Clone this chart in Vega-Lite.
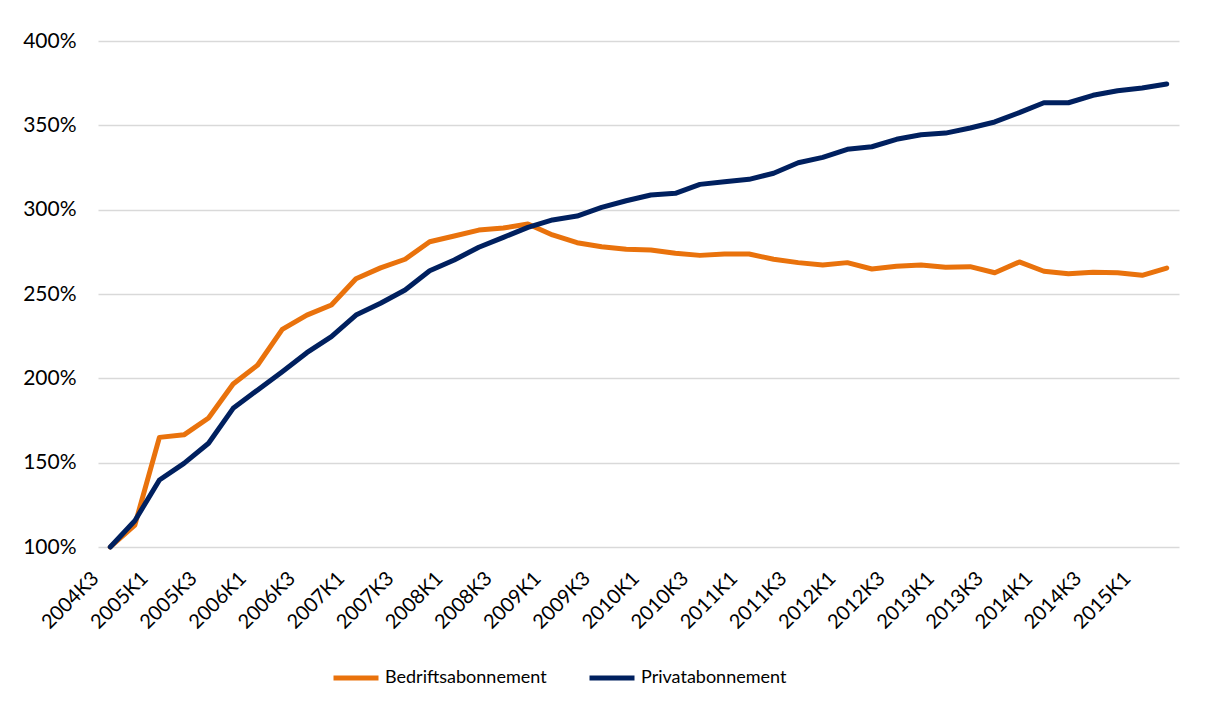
{
  "$schema": "https://vega.github.io/schema/vega-lite/v6.json",
  "width": 1081,
  "height": 506,
  "autosize": {"type": "none"},
  "padding": {"left": 98, "top": 41, "right": 32, "bottom": 160},
  "background": "white",
  "config": {
    "view": {"stroke": null},
    "font": "Lato"
  },
  "data": {
    "values": [
      {"q":"2004K3","s":"Bedriftsabonnement","v":100},
      {"q":"2004K4","s":"Bedriftsabonnement","v":113},
      {"q":"2005K1","s":"Bedriftsabonnement","v":165},
      {"q":"2005K2","s":"Bedriftsabonnement","v":166.5},
      {"q":"2005K3","s":"Bedriftsabonnement","v":176.5},
      {"q":"2005K4","s":"Bedriftsabonnement","v":196.6},
      {"q":"2006K1","s":"Bedriftsabonnement","v":207.9},
      {"q":"2006K2","s":"Bedriftsabonnement","v":229},
      {"q":"2006K3","s":"Bedriftsabonnement","v":237.5},
      {"q":"2006K4","s":"Bedriftsabonnement","v":243.5},
      {"q":"2007K1","s":"Bedriftsabonnement","v":259},
      {"q":"2007K2","s":"Bedriftsabonnement","v":265.5},
      {"q":"2007K3","s":"Bedriftsabonnement","v":270.6},
      {"q":"2007K4","s":"Bedriftsabonnement","v":281},
      {"q":"2008K1","s":"Bedriftsabonnement","v":284.4},
      {"q":"2008K2","s":"Bedriftsabonnement","v":287.9},
      {"q":"2008K3","s":"Bedriftsabonnement","v":289.1},
      {"q":"2008K4","s":"Bedriftsabonnement","v":291.5},
      {"q":"2009K1","s":"Bedriftsabonnement","v":285},
      {"q":"2009K2","s":"Bedriftsabonnement","v":280.4},
      {"q":"2009K3","s":"Bedriftsabonnement","v":278},
      {"q":"2009K4","s":"Bedriftsabonnement","v":276.5},
      {"q":"2010K1","s":"Bedriftsabonnement","v":276.1},
      {"q":"2010K2","s":"Bedriftsabonnement","v":274.1},
      {"q":"2010K3","s":"Bedriftsabonnement","v":272.9},
      {"q":"2010K4","s":"Bedriftsabonnement","v":273.7},
      {"q":"2011K1","s":"Bedriftsabonnement","v":273.7},
      {"q":"2011K2","s":"Bedriftsabonnement","v":270.6},
      {"q":"2011K3","s":"Bedriftsabonnement","v":268.6},
      {"q":"2011K4","s":"Bedriftsabonnement","v":267.2},
      {"q":"2012K1","s":"Bedriftsabonnement","v":268.6},
      {"q":"2012K2","s":"Bedriftsabonnement","v":264.8},
      {"q":"2012K3","s":"Bedriftsabonnement","v":266.4},
      {"q":"2012K4","s":"Bedriftsabonnement","v":267.2},
      {"q":"2013K1","s":"Bedriftsabonnement","v":265.8},
      {"q":"2013K2","s":"Bedriftsabonnement","v":266.2},
      {"q":"2013K3","s":"Bedriftsabonnement","v":262.6},
      {"q":"2013K4","s":"Bedriftsabonnement","v":269},
      {"q":"2014K1","s":"Bedriftsabonnement","v":263.5},
      {"q":"2014K2","s":"Bedriftsabonnement","v":262},
      {"q":"2014K3","s":"Bedriftsabonnement","v":262.9},
      {"q":"2014K4","s":"Bedriftsabonnement","v":262.6},
      {"q":"2015K1","s":"Bedriftsabonnement","v":261.1},
      {"q":"2015K2","s":"Bedriftsabonnement","v":265.4},
      {"q":"2004K3","s":"Privatabonnement","v":100},
      {"q":"2004K4","s":"Privatabonnement","v":115.6},
      {"q":"2005K1","s":"Privatabonnement","v":139.7},
      {"q":"2005K2","s":"Privatabonnement","v":149.6},
      {"q":"2005K3","s":"Privatabonnement","v":161.5},
      {"q":"2005K4","s":"Privatabonnement","v":182.2},
      {"q":"2006K1","s":"Privatabonnement","v":193.1},
      {"q":"2006K2","s":"Privatabonnement","v":203.9},
      {"q":"2006K3","s":"Privatabonnement","v":215.2},
      {"q":"2006K4","s":"Privatabonnement","v":224.7},
      {"q":"2007K1","s":"Privatabonnement","v":237.5},
      {"q":"2007K2","s":"Privatabonnement","v":244.5},
      {"q":"2007K3","s":"Privatabonnement","v":252.4},
      {"q":"2007K4","s":"Privatabonnement","v":263.8},
      {"q":"2008K1","s":"Privatabonnement","v":270.2},
      {"q":"2008K2","s":"Privatabonnement","v":277.7},
      {"q":"2008K3","s":"Privatabonnement","v":283.6},
      {"q":"2008K4","s":"Privatabonnement","v":289.5},
      {"q":"2009K1","s":"Privatabonnement","v":293.9},
      {"q":"2009K2","s":"Privatabonnement","v":296.2},
      {"q":"2009K3","s":"Privatabonnement","v":301.4},
      {"q":"2009K4","s":"Privatabonnement","v":305.3},
      {"q":"2010K1","s":"Privatabonnement","v":308.7},
      {"q":"2010K2","s":"Privatabonnement","v":309.7},
      {"q":"2010K3","s":"Privatabonnement","v":315},
      {"q":"2010K4","s":"Privatabonnement","v":316.6},
      {"q":"2011K1","s":"Privatabonnement","v":318},
      {"q":"2011K2","s":"Privatabonnement","v":321.6},
      {"q":"2011K3","s":"Privatabonnement","v":327.8},
      {"q":"2011K4","s":"Privatabonnement","v":331},
      {"q":"2012K1","s":"Privatabonnement","v":335.8},
      {"q":"2012K2","s":"Privatabonnement","v":337.3},
      {"q":"2012K3","s":"Privatabonnement","v":341.7},
      {"q":"2012K4","s":"Privatabonnement","v":344.4},
      {"q":"2013K1","s":"Privatabonnement","v":345.4},
      {"q":"2013K2","s":"Privatabonnement","v":348.4},
      {"q":"2013K3","s":"Privatabonnement","v":352},
      {"q":"2013K4","s":"Privatabonnement","v":357.5},
      {"q":"2014K1","s":"Privatabonnement","v":363.4},
      {"q":"2014K2","s":"Privatabonnement","v":363.4},
      {"q":"2014K3","s":"Privatabonnement","v":367.8},
      {"q":"2014K4","s":"Privatabonnement","v":370.5},
      {"q":"2015K1","s":"Privatabonnement","v":372.1},
      {"q":"2015K2","s":"Privatabonnement","v":374.5}
    ]
  },
  "mark": {"type": "line", "strokeWidth": 5, "strokeCap": "round", "strokeJoin": "round"},
  "encoding": {
    "x": {
      "field": "q",
      "type": "ordinal",
      "sort": null,
      "scale": {"type": "point", "padding": 0.5},
      "axis": {
        "title": null,
        "domain": false,
        "ticks": false,
        "grid": false,
        "values": ["2004K3","2005K1","2005K3","2006K1","2006K3","2007K1","2007K3","2008K1","2008K3","2009K1","2009K3","2010K1","2010K3","2011K1","2011K3","2012K1","2012K3","2013K1","2013K3","2014K1","2014K3","2015K1"],
        "labelAngle": -45,
        "labelAlign": "right",
        "labelBaseline": "middle",
        "labelPadding": 28,
        "labelOffset": -15,
        "labelFontSize": 20,
        "labelColor": "#000000",
        "labelFont": "Lato"
      }
    },
    "y": {
      "field": "v",
      "type": "quantitative",
      "scale": {"domain": [100, 400], "nice": false, "zero": false},
      "axis": {
        "title": null,
        "domain": false,
        "ticks": false,
        "values": [100, 150, 200, 250, 300, 350, 400],
        "labelExpr": "datum.value + '%'",
        "labelPadding": 22,
        "labelFontSize": 21,
        "labelColor": "#000000",
        "labelFont": "Lato",
        "gridColor": "#D9D9D9",
        "gridWidth": 1.5
      }
    },
    "color": {
      "field": "s",
      "type": "nominal",
      "sort": ["Bedriftsabonnement", "Privatabonnement"],
      "scale": {"domain": ["Bedriftsabonnement", "Privatabonnement"], "range": ["#E9720C", "#00205F"]},
      "legend": {
        "title": null,
        "orient": "none",
        "direction": "horizontal",
        "legendX": 233,
        "legendY": 612,
        "symbolType": "stroke",
        "symbolSize": 2025,
        "symbolStrokeWidth": 5,
        "labelFontSize": 18,
        "labelFont": "Lato",
        "labelColor": "#000000",
        "labelOffset": 4,
        "columnPadding": 32,
        "labelLimit": 0
      }
    }
  }
}
